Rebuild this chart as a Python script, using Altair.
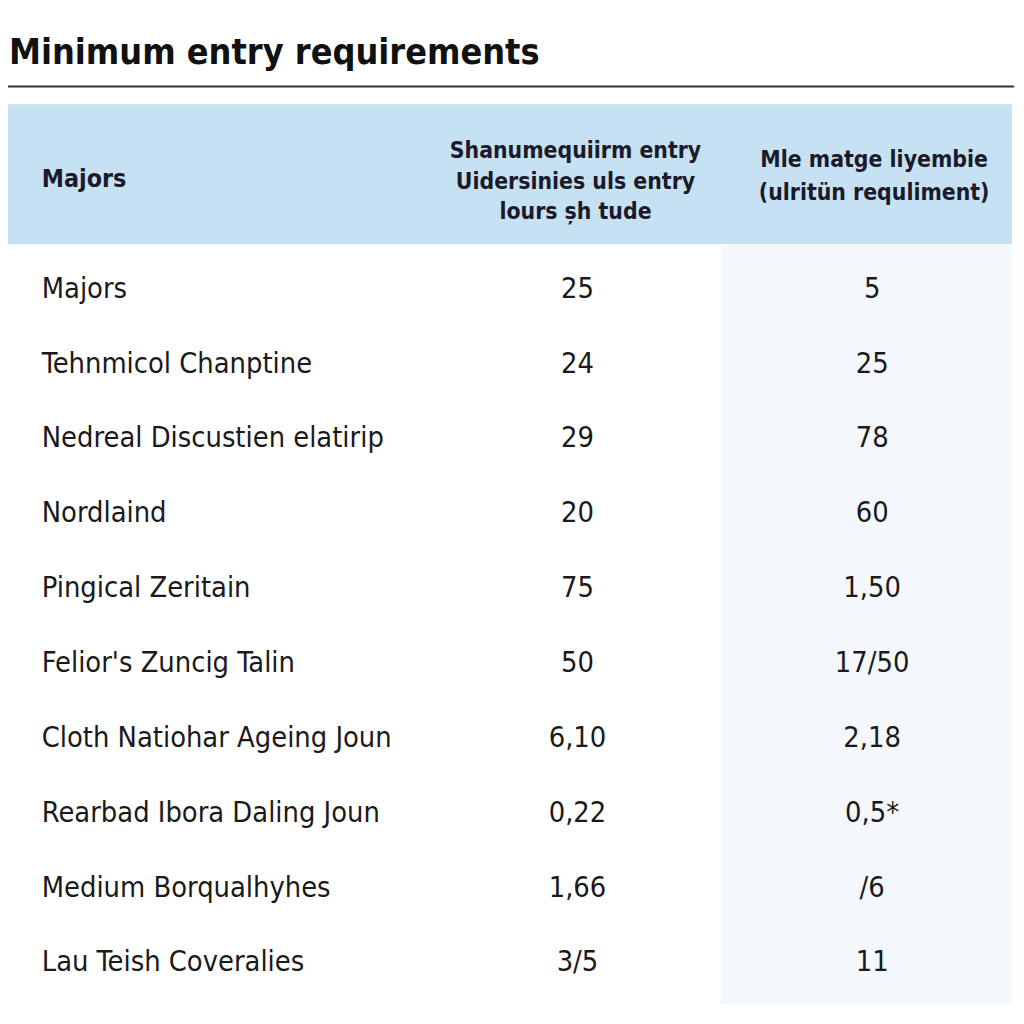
import altair as alt
import pandas as pd

TITLE = "Minimum entry requirements"
HEADERS = [
    "Majors",
    "Shanumequiirm entry\nUidersinies uls entry\nlours șh tude",
    "Mle matge liyembie\n(ulritün requliment)",
]
LABELS = [
    "Majors",
    "Tehnmicol Chanptine",
    "Nedreal Discustien elatirip",
    "Nordlaind",
    "Pingical Zeritain",
    "Felior's Zuncig Talin",
    "Cloth Natiohar Ageing Joun",
    "Rearbad Ibora Daling Joun",
    "Medium Borqualhyhes",
    "Lau Teish Coveralies",
]
COL2 = ["25", "24", "29", "20", "75", "50", "6,10", "0,22", "1,66", "3/5"]
COL3 = ["5", "25", "78", "60", "1,50", "17/50", "2,18", "0,5*", "/6", "11"]

FONT = "Liberation Sans Narrow, DejaVu Sans Condensed, Roboto, sans-serif"
W, H = 1016, 1016

rows = pd.DataFrame({"row": list(range(len(LABELS))), "label": LABELS})
vals = pd.DataFrame(
    {
        "row": list(range(len(COL2))) * 2,
        "col": [1] * len(COL2) + [2] * len(COL3),
        "val": COL2 + COL3,
    }
)

yscale = alt.Scale(domain=[0, 9], range=[279, 958])
xscale = alt.Scale(domain=[1, 2], range=[574, 871])

base = alt.Chart(pd.DataFrame({"k": [0]}))

title = base.mark_text(
    text=TITLE, font=FONT, fontSize=36, fontWeight="bold", align="left",
    baseline="alphabetic", color="#111111",
).encode(x=alt.value(1), y=alt.value(52))

rule = base.mark_rule(color="#333333", strokeWidth=2).encode(
    x=alt.value(0), x2=alt.value(1014), y=alt.value(75)
)

band = base.mark_rect(color="#c6e1f2").encode(
    x=alt.value(0), x2=alt.value(1012), y=alt.value(93), y2=alt.value(234)
)

colbg = base.mark_rect(color="#f4f8fc").encode(
    x=alt.value(719), x2=alt.value(1012), y=alt.value(234), y2=alt.value(999)
)

hdr_major = base.mark_text(
    text=HEADERS[0], font=FONT, fontSize=25, fontWeight="bold", align="left",
    baseline="middle", color="#1a1a2a",
).encode(x=alt.value(34), y=alt.value(168))

hdr_c2 = base.mark_text(
    text=HEADERS[1].split("\n"), font=FONT, fontSize=23, fontWeight="bold",
    align="center", baseline="middle", lineHeight=31, color="#1a1a2a",
).encode(x=alt.value(572), y=alt.value(140))

hdr_c3 = base.mark_text(
    text=HEADERS[2].split("\n"), font=FONT, fontSize=23, fontWeight="bold",
    align="center", baseline="middle", lineHeight=34, color="#1a1a2a",
).encode(x=alt.value(873), y=alt.value(149))

labels = alt.Chart(rows).mark_text(
    font=FONT, fontSize=29, align="left", baseline="middle", color="#1a1a1a",
).encode(
    x=alt.value(34),
    y=alt.Y("row:Q", scale=yscale, axis=None),
    text="label:N",
)

values = alt.Chart(vals).mark_text(
    font=FONT, fontSize=29, align="center", baseline="middle", color="#1a1a1a",
).encode(
    x=alt.X("col:Q", scale=xscale, axis=None),
    y=alt.Y("row:Q", scale=yscale, axis=None),
    text="val:N",
)

chart = (
    alt.layer(band, colbg, rule, title, hdr_major, hdr_c2, hdr_c3, labels, values)
    .resolve_scale(x="shared", y="shared")
    .properties(
        width=W, height=H, autosize=alt.AutoSizeParams(type="none"), padding=0,
        background="white",
    )
    .configure_view(stroke=None)
)

chart.save("out.html", embed_options={"renderer": "svg", "actions": False})
